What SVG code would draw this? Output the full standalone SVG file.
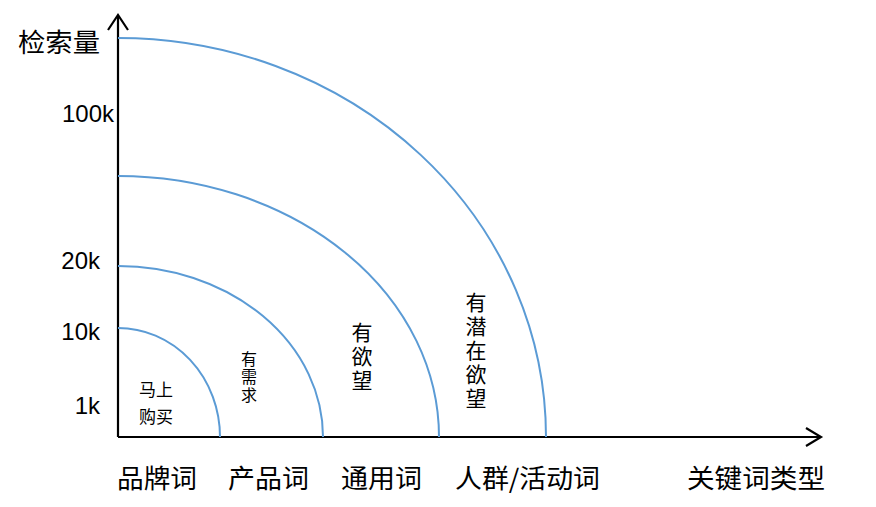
<svg xmlns="http://www.w3.org/2000/svg" width="876" height="507" viewBox="0 0 876 507">
<style>
.ax{stroke:#000;stroke-width:2.2;fill:none}
.arc{stroke:#5b9bd5;stroke-width:2;fill:none}
.num{font-family:"Liberation Sans",Arial,sans-serif;font-size:24px;fill:#000;text-anchor:end}
.cj{font-family:"Noto Sans CJK SC","Noto Sans",sans-serif;fill:#000}
.big{font-size:26px}
.vt{writing-mode:vertical-rl;text-anchor:start}
.mid{font-size:21px;letter-spacing:3px}
.sm{font-size:16px;letter-spacing:2px}
.h{font-size:17px;text-anchor:middle}
</style>
<rect width="876" height="507" fill="#fff"/>
<g id="connectors">
<path class="ax" d="M118,437 V16"/>
<path class="ax" d="M108,30 L118,15 L128,30"/>
<path class="ax" d="M118,437 H820"/>
<path class="ax" d="M806,428 L821,437 L806,446"/>
<path class="arc" d="M118,328 A102,109 0 0 1 220,437"/>
<path class="arc" d="M118,266 A205,171 0 0 1 323,437"/>
<path class="arc" d="M118,176 A321,261 0 0 1 439,437"/>
<path class="arc" d="M118,38 A428,399 0 0 1 546,437"/>
</g>
<g id="yaxis-labels">
<text class="cj big" x="18" y="52" textLength="82" lengthAdjust="spacingAndGlyphs">检索量</text>
<text class="num" x="114" y="122">100k</text>
<text class="num" x="100" y="269">20k</text>
<text class="num" x="100" y="340">10k</text>
<text class="num" x="100" y="414">1k</text>
</g>
<g id="xaxis-labels">
<text class="cj big" x="117" y="488" textLength="80" lengthAdjust="spacingAndGlyphs">品牌词</text>
<text class="cj big" x="228" y="488" textLength="81" lengthAdjust="spacingAndGlyphs">产品词</text>
<text class="cj big" x="341" y="488" textLength="81" lengthAdjust="spacingAndGlyphs">通用词</text>
<text class="cj big" x="455" y="488" textLength="145" lengthAdjust="spacingAndGlyphs">人群/活动词</text>
<text class="cj big" x="687" y="488" textLength="138" lengthAdjust="spacingAndGlyphs">关键词类型</text>
</g>
<g id="zone-1">
<text class="cj h" x="156" y="396">马上</text>
<text class="cj h" x="156" y="423">购买</text>
</g>
<g id="zone-2">
<text class="cj sm vt" x="249" y="351">有需求</text>
</g>
<g id="zone-3">
<text class="cj mid vt" x="362" y="322">有欲望</text>
</g>
<g id="zone-4">
<text class="cj mid vt" x="476" y="292">有潜在欲望</text>
</g>
</svg>
